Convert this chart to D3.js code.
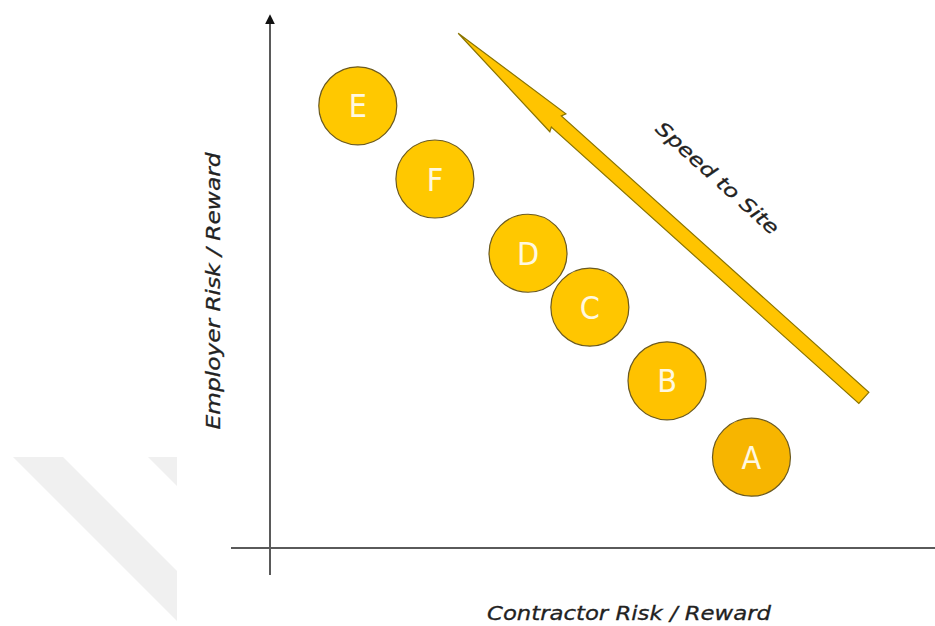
<!DOCTYPE html>
<html>
<head>
<meta charset="utf-8">
<script src="https://cdn.jsdelivr.net/npm/d3@7"></script>
<style>
  html, body { margin: 0; padding: 0; background: #fff; }
  svg { display: block; }
</style>
</head>
<body>
<div id="chart"></div>
<script>
// procurement routes (letter, contractor risk, employer risk)
const labels = ["E", "F", "D", "C", "B", "A"];
const contractorRisk = [13.2, 24.8, 38.8, 48.1, 59.7, 72.4];
const employerRisk = [82.8, 69.1, 55.2, 45.1, 31.3, 17.0];
const fills = ["#FFC800", "#FFC800", "#FFC800", "#FFC600", "#FFC200", "#F7B500"];

// "Speed to Site" arrow, tip then tail
const arrowX = [28.3, 89.3];
const arrowY = [96.4, 28.1];

const xTitle = "Contractor Risk / Reward";
const yTitle = "Employer Risk / Reward";
const arrowTitle = "Speed to Site";

const width = 935, height = 626;

const svg = d3.select("#chart").append("svg")
    .attr("width", width)
    .attr("height", height);

const x = d3.scaleLinear().domain([0, 100]).range([270, 935]);
const y = d3.scaleLinear().domain([0, 100]).range([548, 14]);

// faint watermark bands bottom left
const defs = svg.append("defs");
defs.append("clipPath").attr("id", "wmclip")
    .append("rect").attr("x", 0).attr("y", 457).attr("width", 177).attr("height", 170);
const wm = svg.append("g").attr("fill", "#f0f0f0").attr("clip-path", "url(#wmclip)");
wm.append("polygon").attr("points", "13,457 63,457 240,634 190,634");
wm.append("polygon").attr("points", "148,457 198,457 375,634 325,634");

// axes
const axisColor = "#5a5a5a";
defs.append("marker")
    .attr("id", "ahead")
    .attr("viewBox", "0 0 10 10")
    .attr("refX", 5).attr("refY", 5)
    .attr("markerWidth", 5).attr("markerHeight", 5)
    .attr("orient", "auto")
    .append("path").attr("d", "M0,0 L10,5 L0,10 z").attr("fill", "#111");

svg.append("line")
    .attr("x1", x(0)).attr("y1", 575)
    .attr("x2", x(0)).attr("y2", y(99))
    .attr("stroke", axisColor).attr("stroke-width", 2)
    .attr("marker-end", "url(#ahead)");

svg.append("line")
    .attr("x1", 231).attr("y1", y(0))
    .attr("x2", 940).attr("y2", y(0))
    .attr("stroke", axisColor).attr("stroke-width", 2)
    .attr("marker-end", "url(#ahead)");

// axis titles
svg.append("text")
    .attr("x", 629).attr("y", 620)
    .attr("text-anchor", "middle")
    .attr("font-family", "'DejaVu Sans', sans-serif")
    .attr("font-style", "italic")
    .attr("font-size", 20)
    .attr("fill", "#222")
    .attr("stroke", "#222").attr("stroke-width", 0.3)
    .attr("textLength", 284)
    .attr("lengthAdjust", "spacingAndGlyphs")
    .text(xTitle);

svg.append("text")
    .attr("transform", "translate(220,291) rotate(-90)")
    .attr("text-anchor", "middle")
    .attr("font-family", "'DejaVu Sans', sans-serif")
    .attr("font-style", "italic")
    .attr("font-size", 20)
    .attr("fill", "#222")
    .attr("stroke", "#222").attr("stroke-width", 0.3)
    .attr("textLength", 277)
    .attr("lengthAdjust", "spacingAndGlyphs")
    .text(yTitle);

// big arrow
const tx = x(arrowX[0]), ty = y(arrowY[0]);
const ex = x(arrowX[1]), ey = y(arrowY[1]);
const len = Math.hypot(ex - tx, ey - ty);
const ang = Math.atan2(ey - ty, ex - tx) * 180 / Math.PI;
const headLen = 134, headHalf = 12, shaftHalf = 7.5;
const arrowPts = [
  [0, 0], [headLen, -headHalf], [headLen - 2, -shaftHalf], [len, -shaftHalf],
  [len, shaftHalf], [headLen - 2, shaftHalf], [headLen, headHalf]
];
svg.append("polygon")
    .attr("transform", `translate(${tx},${ty}) rotate(${ang})`)
    .attr("points", arrowPts.map(p => p.join(",")).join(" "))
    .attr("fill", "#FFC400")
    .attr("stroke", "#8a7400")
    .attr("stroke-width", 1.2)
    .attr("stroke-linejoin", "miter");

svg.append("text")
    .attr("transform", `translate(713,183) rotate(${ang})`)
    .attr("text-anchor", "middle")
    .attr("font-family", "'DejaVu Sans', sans-serif")
    .attr("font-style", "italic")
    .attr("font-size", 19)
    .attr("fill", "#222")
    .attr("stroke", "#222").attr("stroke-width", 0.3)
    .attr("textLength", 158)
    .attr("lengthAdjust", "spacingAndGlyphs")
    .text(arrowTitle);

// circles
const routes = labels.map((d, i) => ({ label: d, cx: contractorRisk[i], ey: employerRisk[i], fill: fills[i] }));

const g = svg.append("g").selectAll("g")
    .data(routes)
    .join("g")
    .attr("transform", d => `translate(${x(d.cx)},${y(d.ey)})`);

g.append("circle")
    .attr("r", 39)
    .attr("fill", d => d.fill)
    .attr("stroke", "#6b5a20")
    .attr("stroke-width", 1.2);

g.append("text")
    .attr("text-anchor", "middle")
    .attr("dy", "0.36em")
    .attr("font-family", "'DejaVu Sans Condensed', 'Liberation Sans Narrow', sans-serif")
    .attr("font-size", 32)
    .attr("fill", "#fff8e0")
    .text(d => d.label);
</script>
</body>
</html>
